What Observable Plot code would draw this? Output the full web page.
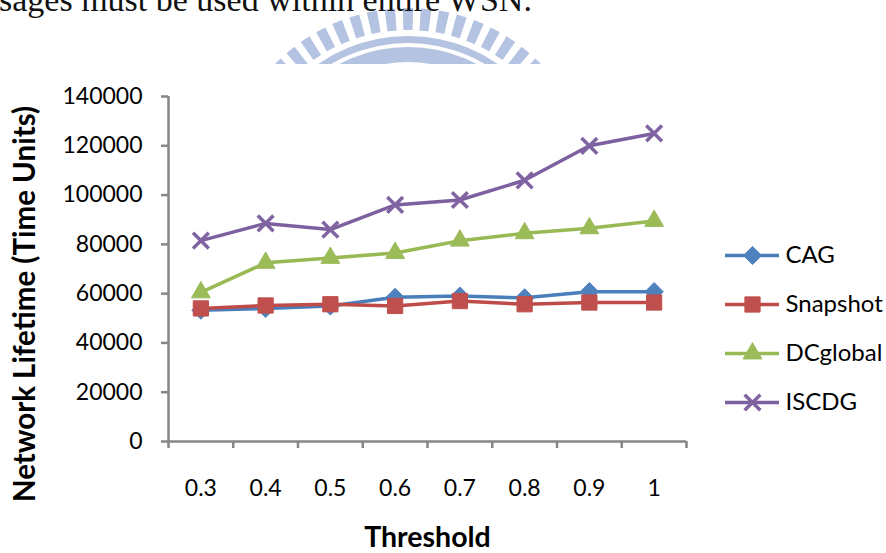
<!DOCTYPE html>
<html>
<head>
<meta charset="utf-8">
<script src="https://cdn.jsdelivr.net/npm/d3@7"></script>
<script src="https://cdn.jsdelivr.net/npm/@observablehq/plot@0.6"></script>
<style>
  html, body { margin: 0; padding: 0; background: #fff; }
  #page { position: relative; width: 886px; height: 553px; overflow: hidden; background: #fff; }
  #page > * { position: absolute; }
</style>
</head>
<body>
<div id="page"></div>
<script>
// Network lifetime against threshold, one series per scheme
const thresholds = [0.3, 0.4, 0.5, 0.6, 0.7, 0.8, 0.9, 1];
const cag      = [53300, 54000, 55000, 58500, 59000, 58300, 60800, 60800];
const snapshot = [54000, 55200, 55700, 55000, 57000, 55700, 56400, 56400];
const dcglobal = [60500, 72500, 74500, 76500, 81500, 84500, 86500, 89500];
const iscdg    = [81500, 88500, 86000, 96000, 98000, 106000, 120000, 125000];
const seriesNames = ["CAG", "Snapshot", "DCglobal", "ISCDG"];
const yTicks = [0, 20000, 40000, 60000, 80000, 100000, 120000, 140000];
const xTitle = "Threshold";
const yTitle = "Network Lifetime (Time Units)";
const leadText = "sages must be used within entire WSN.";

// Drawing styles
const lineColors   = ["#4A7EBB", "#BE4B48", "#98B954", "#7D60A0"];
const markerColors = ["#4F81BD", "#C0504D", "#9BBB59", "#8064A2"];
const symbols      = ["diamond2", "square", "triangle", "times"];
const radii        = [8.2, 8.6, 7, 7.2];
const axisGray = "#868686";

const values = [cag, snapshot, dcglobal, iscdg];
const rowsOf = s => thresholds.map((t, i) => ({t, v: values[s][i], name: seriesNames[s]}));

const page = d3.select("#page");

// Header strip: running text line and the seal peeking above the chart
const head = page.append("svg")
  .attr("width", 886).attr("height", 64)
  .style("left", "0px").style("top", "0px");
const seal = head.append("g").attr("transform", "translate(408,194)").attr("fill", "#b4c3e1");
const arc = d3.arc();
const step = 5.6 * Math.PI / 180, half = 1.6 * Math.PI / 180;
for (let k = -10; k <= 10; k++) {
  const a = k * step;
  seal.append("path").attr("d", arc({innerRadius: 164, outerRadius: 186, startAngle: a - half, endAngle: a + half}));
}
seal.append("path").attr("d", arc({innerRadius: 151, outerRadius: 158, startAngle: -Math.PI, endAngle: Math.PI}));
seal.append("path").attr("d", arc({innerRadius: 132, outerRadius: 147, startAngle: -Math.PI, endAngle: Math.PI}));
head.append("text")
  .attr("x", -1).attr("y", 11)
  .attr("font-family", "'Liberation Serif', serif")
  .attr("font-size", 34)
  .attr("fill", "#111")
  .text(leadText);

// Main chart
const xDomain = [thresholds[0] - 0.05, thresholds[thresholds.length - 1] + 0.05];
const xEdges = thresholds.map(t => t - 0.05).concat([thresholds[thresholds.length - 1] + 0.05]);

const seriesMarks = seriesNames.flatMap((name, s) => [
  Plot.line(rowsOf(s), {x: "t", y: "v", stroke: lineColors[s], strokeWidth: 3.5, strokeLinejoin: "round"}),
  Plot.dot(rowsOf(s), {
    x: "t", y: "v", symbol: symbols[s], r: radii[s],
    fill: symbols[s] === "times" ? "none" : markerColors[s],
    stroke: markerColors[s],
    strokeWidth: symbols[s] === "times" ? 3.5 : 1
  })
]);

const chart = Plot.plot({
  width: 886,
  height: 489,
  marginLeft: 168,
  marginRight: 200,
  marginTop: 32,
  marginBottom: 112,
  style: {background: "white", fontFamily: "Lato, sans-serif", color: "black", overflow: "visible"},
  x: {type: "linear", domain: xDomain},
  y: {domain: [0, 140000]},
  marks: [
    Plot.ruleX([xDomain[0]], {y1: 0, y2: 140000, stroke: axisGray, strokeWidth: 2.5}),
    Plot.ruleY([0], {x1: xDomain[0], x2: xDomain[1], stroke: axisGray, strokeWidth: 2.5}),
    Plot.axisY(yTicks, {
      tickSize: 7, tickPadding: 19, tickFormat: d => String(d),
      stroke: axisGray, strokeWidth: 2.5, fill: "black", fontSize: 23, label: null
    }),
    Plot.axisX(xEdges, {
      tickSize: 7, tickFormat: () => "", stroke: axisGray, strokeWidth: 2.5, label: null
    }),
    Plot.axisX(thresholds, {
      tickSize: 0, tickPadding: 38, tickFormat: d => String(d), fill: "black", fontSize: 23, label: null
    }),
    ...seriesMarks,
    Plot.text([xTitle], {
      frameAnchor: "bottom", lineAnchor: "middle", textAnchor: "middle",
      dy: 96, fontSize: 28.5, fontWeight: "bold", fill: "black"
    }),
    Plot.text([yTitle], {
      frameAnchor: "left", textAnchor: "middle", lineAnchor: "middle", rotate: -90,
      dx: -143, dy: 35, fontSize: 29.5, fontWeight: "bold", fill: "black"
    })
  ]
});
page.append(() => chart).style("left", "0px").style("top", "64px");

// Legend
const legend = Plot.plot({
  width: 166,
  height: 200,
  margin: 0,
  style: {background: "transparent", fontFamily: "Lato, sans-serif", color: "black", overflow: "visible"},
  x: {domain: [0, 1], range: [5, 59], axis: null},
  y: {type: "point", domain: seriesNames, range: [25, 172], padding: 0, axis: null},
  marks: [
    ...seriesNames.flatMap((name, s) => [
      Plot.ruleY([name], {x1: 0, x2: 1, stroke: lineColors[s], strokeWidth: 3.5}),
      Plot.dot([name], {
        x: 0.5, y: d => d, symbol: symbols[s], r: radii[s],
        fill: symbols[s] === "times" ? "none" : markerColors[s],
        stroke: markerColors[s],
        strokeWidth: symbols[s] === "times" ? 3.5 : 1
      })
    ]),
    Plot.text(seriesNames, {x: 1, y: d => d, text: d => d, dx: 6, textAnchor: "start", fontSize: 24, fill: "black"})
  ]
});
page.append(() => legend).style("left", "720px").style("top", "230px");
</script>
</body>
</html>
